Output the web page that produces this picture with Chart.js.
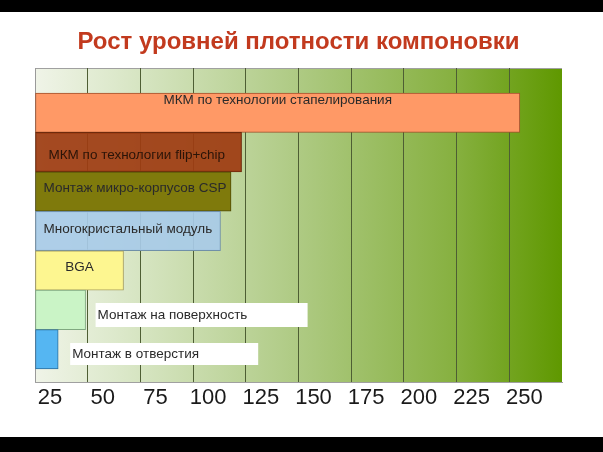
<!DOCTYPE html>
<html><head><meta charset="utf-8">
<script src="https://cdn.jsdelivr.net/npm/chart.js@4"></script>
<style>
html,body{margin:0;padding:0;background:#fff;}
#wrap{position:relative;width:603px;height:452px;background:#fff;overflow:hidden;}
.strip{position:absolute;left:0;width:603px;background:#000;}
canvas{position:absolute;left:0;top:0;}
</style></head><body>
<div id="wrap">
<div class="strip" style="top:0;height:12px"></div>
<div class="strip" style="top:437px;height:15px"></div>
<canvas id="c" width="603" height="452"></canvas>
</div>
<script>
const title = 'Рост уровней плотности компоновки';
const categories = [
  'МКМ по технологии стапелирования',
  'МКМ по технологии flip+chip',
  'Монтаж микро-корпусов CSP',
  'Многокристальный модуль',
  'BGA',
  'Монтаж на поверхность',
  'Монтаж в отверстия'
];
const values = [230, 98, 93, 88, 42, 24, 11];
const tickLabels = ['25', '50', '75', '100', '125', '150', '175', '200', '225', '250'];

const barColors = ['#FF9966', 'rgba(158,60,18,0.93)', '#7F7A0C', 'rgba(168,203,232,0.92)', '#FDF690', '#CAF4C6', '#55B6F2'];
const barBorders = ['#A0522D', '#6E2A0C', '#4E4A06', '#7090A8', '#A8A060', '#80A880', '#2D6F9F'];

// label styling (placement relative to each bar)
const labelStyles = [
  {align: 'center', dy: -12},
  {align: 'left', dx: 13, dy: 3},
  {align: 'left', dx: 8, dy: -3},
  {align: 'left', dx: 8, dy: -2},
  {align: 'center', dy: -3},
  {box: true, gap: 10, w: 212, h: 24, dy: 5},
  {box: true, gap: 12, w: 188, h: 22, dy: 5}
];

const FONT = 'Liberation Sans, Arial, sans-serif';

const bgPlugin = {
  id: 'bg',
  beforeDraw(chart) {
    const {ctx, chartArea: a} = chart;
    ctx.save();
    const g = ctx.createLinearGradient(a.left, 0, a.right, 0);
    g.addColorStop(0, '#F0F4E8');
    g.addColorStop(0.15, '#DDE9CC');
    g.addColorStop(0.5, '#AECA83');
    g.addColorStop(0.8, '#86B03F');
    g.addColorStop(1, '#5F9800');
    ctx.fillStyle = g;
    ctx.fillRect(a.left, a.top, a.right - a.left, a.bottom - a.top);
    ctx.strokeStyle = '#A0A0A0';
    ctx.lineWidth = 1;
    ctx.beginPath();
    ctx.moveTo(a.left, a.top + 0.5);
    ctx.lineTo(a.right, a.top + 0.5);
    ctx.stroke();
    ctx.restore();
  }
};

const labelPlugin = {
  id: 'barLabels',
  afterDatasetsDraw(chart) {
    const {ctx} = chart;
    const meta = chart.getDatasetMeta(0);
    ctx.save();
    ctx.font = '13.5px ' + FONT;
    ctx.textBaseline = 'middle';
    meta.data.forEach((bar, i) => {
      const s = labelStyles[i];
      const text = categories[i];
      const cy = bar.y + (s.dy || 0);
      const left = Math.min(bar.x, bar.base);
      const right = Math.max(bar.x, bar.base);
      if (s.box) {
        const bx = right + s.gap;
        ctx.fillStyle = '#FFFFFF';
        ctx.fillRect(bx, Math.round(cy - s.h / 2), s.w, s.h);
        ctx.fillStyle = '#2A2A2A';
        ctx.textAlign = 'left';
        ctx.fillText(text, bx + 2, cy);
      } else if (s.align === 'center') {
        ctx.fillStyle = '#2A2A2A';
        ctx.textAlign = 'center';
        ctx.fillText(text, (left + right) / 2, cy);
      } else {
        ctx.fillStyle = i === 1 ? '#2A1408' : '#2A2A2A';
        ctx.textAlign = 'left';
        ctx.fillText(text, left + s.dx, cy);
      }
    });
    ctx.restore();
  }
};

new Chart(document.getElementById('c'), {
  type: 'bar',
  data: {
    datasets: [{
      data: values.map((v, i) => ({x: v, y: i + 1})),
      backgroundColor: barColors,
      borderColor: barBorders,
      borderWidth: 1,
      borderSkipped: false,
      barPercentage: 1,
      categoryPercentage: 1
    }]
  },
  options: {
    indexAxis: 'y',
    responsive: false,
    devicePixelRatio: 1,
    animation: false,
    layout: {padding: {top: 12, left: 35, right: 41, bottom: 37.6}},
    plugins: {
      legend: {display: false},
      tooltip: {enabled: false},
      title: {
        display: true,
        text: title,
        color: '#C23A1E',
        font: {family: FONT, size: 24, weight: 'bold'},
        padding: {top: 15.6, bottom: 11.6}
      }
    },
    scales: {
      x: {
        type: 'linear',
        min: 0,
        max: 250,
        ticks: {
          stepSize: 25,
          padding: 3,
          labelOffset: 15,
          color: '#1A1A1A',
          font: {family: FONT, size: 22},
          maxRotation: 0,
          autoSkip: false,
          callback: (v, i) => (i < tickLabels.length ? tickLabels[i] : '')
        },
        grid: {
          drawTicks: false,
          color: (c) => (c.index === 0 ? '#9A9A9A' : (c.index === 10 ? 'rgba(0,0,0,0)' : '#4E5E34')),
          lineWidth: 1
        },
        border: {display: true, color: '#A0A0A0'}
      },
      y: {
        type: 'linear',
        display: false,
        reverse: true,
        offset: false,
        grid: {offset: false},
        min: -0.134,
        max: 7.83,
        afterBuildTicks: (s) => { s.ticks = [{value: s.min}, {value: s.max}]; }
      }
    }
  },
  plugins: [bgPlugin, labelPlugin]
});
</script>
</body></html>
